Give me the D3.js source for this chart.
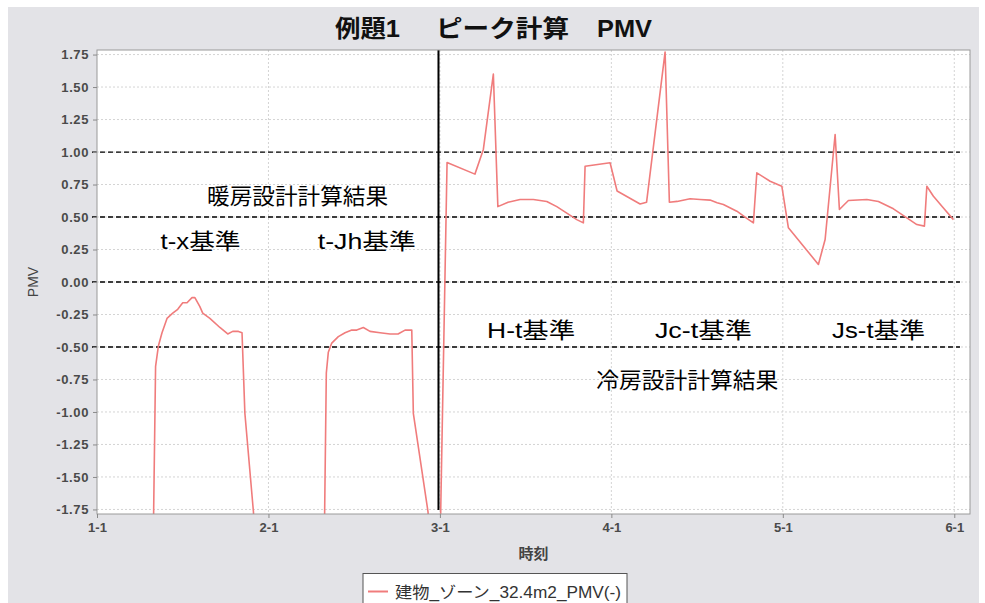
<!DOCTYPE html>
<html>
<head>
<meta charset="utf-8">
<script src="https://cdn.jsdelivr.net/npm/d3@7"></script>
<style>
  html, body { margin: 0; padding: 0; background: #ffffff; }
  svg { display: block; }
</style>
</head>
<body>
<svg id="chart" width="985" height="603"></svg>
<script>
// ---- data ----
const chartTitle = ["例題1", "ピーク計算", "PMV"];
const yLabel = "PMV";
const xLabel = "時刻";
const seriesName = "建物_ゾーン_32.4m2_PMV(-)";

const xTickHours = [0, 24, 48, 72, 96, 120];
const xTickLabels = ["1-1", "2-1", "3-1", "4-1", "5-1", "6-1"];
const yTicks = [1.75, 1.5, 1.25, 1.0, 0.75, 0.5, 0.25, 0, -0.25, -0.5, -0.75, -1.0, -1.25, -1.5, -1.75];
const refLines = [1.0, 0.5, 0.0, -0.5];
const separatorHour = 47.8;

// time in hours from 1-1 0:00, PMV value
const hours = [
  0, 7.8, 8.2, 8.6, 9.1, 9.8, 10.6, 11.3, 12.0, 12.6, 13.3, 13.7, 14.4, 14.8, 15.8, 17.2, 18.3, 19.0, 19.8, 20.3, 20.7, 21.9, 22.4,
  31.75, 32.1, 32.38, 32.86, 33.78, 34.72, 35.66, 36.36, 37.28, 38.22, 39.62, 41.02, 42.14, 43.12, 44.06, 44.28, 46.34, 46.7,
  48.0, 49.0, 52.9, 54.08, 55.48, 56.11, 57.54, 59.22, 61.08, 62.96, 64.36, 65.76, 67.16, 68.08, 68.32,
  71.82, 72.8, 76.02, 76.93, 79.52, 80.12, 81.2, 83.02, 84.42, 85.82, 86.8, 87.68, 89.56, 90.96, 91.88, 92.36,
  94.22, 95.86, 96.78, 100.98, 101.92, 103.32, 103.92, 105.18, 107.76, 109.38, 111.48, 113.36, 114.76, 115.82, 116.16,
  117.08, 118.48, 119.88
];
const pmv = [
  -2.3, -2.3, -0.65, -0.49, -0.39, -0.28, -0.24, -0.21, -0.16, -0.16, -0.12, -0.12, -0.19, -0.24, -0.28, -0.35, -0.40, -0.38, -0.38, -0.39, -1.01, -1.77, -2.3,
  -2.3, -0.7, -0.54, -0.47, -0.42, -0.39, -0.37, -0.37, -0.35, -0.38, -0.39, -0.40, -0.40, -0.37, -0.37, -1.01, -1.77, -2.3,
  -2.1, 0.92, 0.83, 1.02, 1.60, 0.58, 0.614, 0.635, 0.635, 0.62, 0.58, 0.53, 0.48, 0.455, 0.89,
  0.917, 0.70, 0.60, 0.614, 1.77, 0.614, 0.62, 0.64, 0.635, 0.63, 0.61, 0.596, 0.545, 0.49, 0.455, 0.84,
  0.775, 0.737, 0.417, 0.135, 0.327, 1.135, 0.558, 0.627, 0.635, 0.62, 0.563, 0.494, 0.442, 0.43, 0.737,
  0.66, 0.57, 0.48
];

// annotations: text, start hour, centre PMV
const noteTexts = ["暖房設計計算結果", "t-x基準", "t-Jh基準", "H-t基準", "Jc-t基準", "Js-t基準", "冷房設計計算結果"];
const noteHours = [15.4, 8.9, 30.9, 54.6, 78.1, 102.9, 69.9];
const noteValues = [0.66, 0.315, 0.315, -0.37, -0.37, -0.37, -0.76];

// ---- styling / layout ----
const noteWidths = [181, 80, 98, 88, 97, 93, 182];
const titleX = [335, 436, 597];
const titleWidths = [65, 133, 55];

// ---- drawing ----
const svg = d3.select("#chart");
const W = 985, H = 603;
const plot = { left: 97, right: 970, top: 50, bottom: 514 };

svg.append("rect").attr("x", 8).attr("y", 7).attr("width", 971).attr("height", H - 7)
  .attr("fill", "#e3e3e7");

const x = d3.scaleLinear().domain([0, 122.2]).range([plot.left, plot.right]);
const y = d3.scaleLinear().domain([-1.785, 1.785]).range([plot.bottom, plot.top]);

svg.append("rect").attr("x", plot.left).attr("y", plot.top)
  .attr("width", plot.right - plot.left).attr("height", plot.bottom - plot.top)
  .attr("fill", "#ffffff");

// grid
const grid = svg.append("g");
grid.selectAll("line.h").data(yTicks).join("line")
  .attr("x1", plot.left).attr("x2", plot.right)
  .attr("y1", d => y(d)).attr("y2", d => y(d))
  .attr("stroke", "#d4d4d4").attr("stroke-width", 1).attr("stroke-dasharray", "2,2");
grid.selectAll("line.v").data(xTickHours.slice(1)).join("line")
  .attr("x1", d => x(d)).attr("x2", d => x(d))
  .attr("y1", plot.top).attr("y2", plot.bottom)
  .attr("stroke", "#d4d4d4").attr("stroke-width", 1).attr("stroke-dasharray", "2,2");

// reference dashed lines
svg.append("g").selectAll("line").data(refLines).join("line")
  .attr("x1", x(-0.7)).attr("x2", x(120.8))
  .attr("y1", d => y(d)).attr("y2", d => y(d))
  .attr("stroke", "#000").attr("stroke-width", 1.3).attr("stroke-dasharray", "5,3");

// separator
svg.append("line")
  .attr("x1", x(separatorHour)).attr("x2", x(separatorHour))
  .attr("y1", plot.top).attr("y2", y(-1.755))
  .attr("stroke", "#000").attr("stroke-width", 2);

// series
svg.append("clipPath").attr("id", "clip").append("rect")
  .attr("x", plot.left).attr("y", plot.top)
  .attr("width", plot.right - plot.left).attr("height", plot.bottom - plot.top);
const pts = hours.map((h, i) => [h, pmv[i]]);
svg.append("path").datum(pts)
  .attr("clip-path", "url(#clip)")
  .attr("fill", "none").attr("stroke", "#f07c7c").attr("stroke-width", 1.6)
  .attr("stroke-linejoin", "round")
  .attr("d", d3.line().x(d => x(d[0])).y(d => y(d[1])));

// plot border
svg.append("rect").attr("x", plot.left).attr("y", plot.top)
  .attr("width", plot.right - plot.left).attr("height", plot.bottom - plot.top)
  .attr("fill", "none").attr("stroke", "#9a9a9a").attr("stroke-width", 1);

// axes
const yAxis = svg.append("g").attr("transform", `translate(${plot.left},0)`)
  .call(d3.axisLeft(y).tickValues(yTicks).tickFormat(d => d.toFixed(2)).tickSize(4).tickPadding(4));
const xAxis = svg.append("g").attr("transform", `translate(0,${plot.bottom})`)
  .call(d3.axisBottom(x).tickValues(xTickHours).tickFormat((d, i) => xTickLabels[i]).tickSize(4).tickPadding(5));
[yAxis, xAxis].forEach(g => {
  g.select(".domain").remove();
  g.selectAll(".tick line").attr("stroke", "#8a8a8a");
  g.selectAll(".tick text").attr("fill", "#4a4a4a")
    .attr("font-family", "Liberation Sans, Arial, sans-serif")
    .attr("font-size", 13).attr("font-weight", "bold");
});
yAxis.selectAll(".tick text").attr("letter-spacing", 0.6);

// axis titles
svg.append("text").attr("transform", `translate(38,${(plot.top + plot.bottom) / 2}) rotate(-90)`)
  .attr("text-anchor", "middle").attr("font-family", "Liberation Sans, Arial, sans-serif")
  .attr("font-size", 14).attr("fill", "#444").text(yLabel);
svg.append("text").attr("x", (plot.left + plot.right) / 2).attr("y", 559)
  .attr("text-anchor", "middle").attr("font-family", "Noto Sans CJK JP, sans-serif")
  .attr("font-weight", "bold").attr("font-size", 15).attr("fill", "#444").text(xLabel);

// title
const t = svg.append("g")
  .attr("font-family", "Liberation Sans, Noto Sans CJK JP, sans-serif")
  .attr("font-weight", "bold").attr("font-size", 24).attr("fill", "#111");
chartTitle.forEach((s, i) => t.append("text").attr("x", titleX[i]).attr("y", 37)
  .attr("textLength", titleWidths[i]).attr("lengthAdjust", "spacingAndGlyphs").text(s));

// annotations
svg.append("g").selectAll("text").data(noteTexts).join("text")
  .attr("x", (d, i) => x(noteHours[i])).attr("y", (d, i) => y(noteValues[i]))
  .attr("dominant-baseline", "central")
  .attr("font-family", "Liberation Sans, Arial, Noto Sans CJK JP, sans-serif")
  .attr("font-size", 22).attr("fill", "#000")
  .attr("textLength", (d, i) => noteWidths[i]).attr("lengthAdjust", "spacingAndGlyphs")
  .text(d => d);

// legend
const lg = svg.append("g");
lg.append("rect").attr("x", 363).attr("y", 573.5).attr("width", 264).attr("height", 36)
  .attr("fill", "#ffffff").attr("stroke", "#555").attr("stroke-width", 1);
lg.append("line").attr("x1", 368).attr("x2", 388).attr("y1", 591.5).attr("y2", 591.5)
  .attr("stroke", "#f07c7c").attr("stroke-width", 2);
lg.append("text").attr("x", 395).attr("y", 598)
  .attr("font-family", "Liberation Sans, Arial, Noto Sans CJK JP, sans-serif")
  .attr("font-size", 16).attr("fill", "#333")
  .attr("textLength", 226).attr("lengthAdjust", "spacingAndGlyphs").text(seriesName);
</script>
</body>
</html>
